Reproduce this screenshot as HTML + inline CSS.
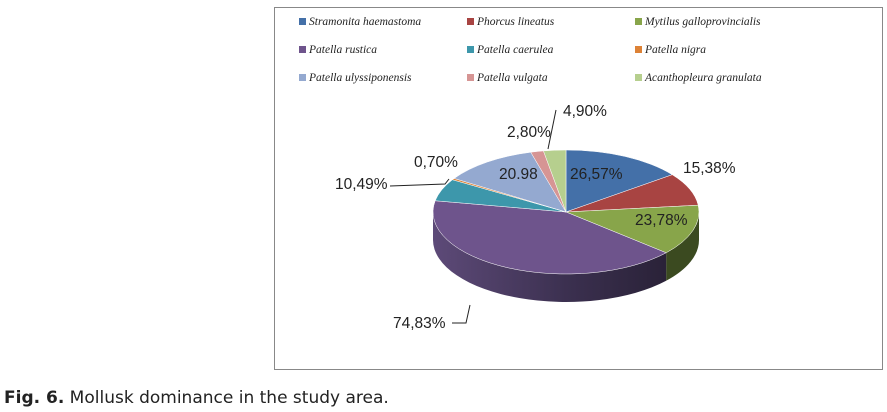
<!DOCTYPE html>
<html><head><meta charset="utf-8"><style>
body{margin:0;width:887px;height:412px;background:#fff;overflow:hidden;position:relative;font-family:"Liberation Sans",sans-serif}
.box{position:absolute;left:274px;top:7px;width:609px;height:363px;border:1px solid #888;box-sizing:border-box}
.lg{position:absolute;font-family:"Liberation Serif",serif;font-style:italic;font-size:11.5px;color:#222;white-space:nowrap}
.lg i{display:inline-block;width:7px;height:7px;margin-right:3px;vertical-align:0px}
.cap{position:absolute;left:4px;top:388px;font-family:"DejaVu Sans",sans-serif;font-size:17px;color:#222}
</style></head><body>
<div class="box"></div>
<div class="lg" style="left:299px;top:16px"><i style="background:#4470a8"></i>Stramonita haemastoma</div>
<div class="lg" style="left:467px;top:16px"><i style="background:#a84442"></i>Phorcus lineatus</div>
<div class="lg" style="left:635px;top:16px"><i style="background:#88a54a"></i>Mytilus galloprovincialis</div>
<div class="lg" style="left:299px;top:44px"><i style="background:#6e548c"></i>Patella rustica</div>
<div class="lg" style="left:467px;top:44px"><i style="background:#3d97ab"></i>Patella caerulea</div>
<div class="lg" style="left:635px;top:44px"><i style="background:#dd8236"></i>Patella nigra</div>
<div class="lg" style="left:299px;top:72px"><i style="background:#94a9d0"></i>Patella ulyssiponensis</div>
<div class="lg" style="left:467px;top:72px"><i style="background:#d69594"></i>Patella vulgata</div>
<div class="lg" style="left:635px;top:72px"><i style="background:#b6cf8e"></i>Acanthopleura granulata</div>
<svg id="s" width="887" height="412" style="position:absolute;left:0;top:0">
<defs>
<linearGradient id="gp" x1="0" x2="1" y1="0" y2="0"><stop offset="0" stop-color="#5d4a78"/><stop offset="0.6" stop-color="#3a2f4e"/><stop offset="1" stop-color="#2a2238"/></linearGradient>
</defs>
<g id="pie"></g>
<g font-family="Liberation Sans,sans-serif" font-size="15.5" fill="#222">
<text x="570" y="179">26,57%</text>
<text x="683" y="173">15,38%</text>
<text x="635" y="225">23,78%</text>
<text x="393" y="328">74,83%</text>
<text x="335" y="189">10,49%</text>
<text x="414" y="167">0,70%</text>
<text x="499" y="179">20.98</text>
<text x="507" y="137">2,80%</text>
<text x="563" y="116">4,90%</text>
</g>
<g stroke="#222" fill="none" stroke-width="1">
<polyline points="452,323 466,323 470,305"/>
<polyline points="390,186 445,184 449,179"/>
<polyline points="556,110 548,149"/>
</g>
</svg>
<div class="cap"><b>Fig. 6.</b> Mollusk dominance in the study area.</div>
<script>
var v=[26.57,15.38,23.78,74.83,10.49,0.70,20.98,2.80,4.90];
var c=["#4470a8","#a84442","#88a54a","#6e548c","#3d97ab","#dd8236","#94a9d0","#d69594","#b6cf8e"];
var sc=["#2c4a70","#6e2c2a","#3b4a20","url(#gp)","#286472","#904f20","#5e6e88","#8c6060","#76885a"];
var cx=566,cy=212,rx=133,ry=62,d=28,tot=v.reduce((a,b)=>a+b,0);
function P(t,dy){t=t*Math.PI/180;return (cx+rx*Math.cos(t)).toFixed(2)+","+(cy+dy+ry*Math.sin(t)).toFixed(2)}
var sides="",tops="",a=-90;
for(var i=0;i<v.length;i++){var b=a+v[i]/tot*360;
 var s=Math.max(a,0),e=Math.min(b,180);
 if(e>s){sides+='<path d="M'+P(s,0)+' A'+rx+','+ry+' 0 0 1 '+P(e,0)+' L'+P(e,d)+' A'+rx+','+ry+' 0 0 0 '+P(s,d)+' Z" fill="'+sc[i]+'"/>';}
 var lg=(b-a)>180?1:0;
 tops+='<path d="M'+cx+','+cy+' L'+P(a,0)+' A'+rx+','+ry+' 0 '+lg+' 1 '+P(b,0)+' Z" fill="'+c[i]+'" stroke="#fff" stroke-width="0.5"/>';
 a=b;}
document.getElementById("pie").innerHTML=sides+tops;
</script>
</body></html>
